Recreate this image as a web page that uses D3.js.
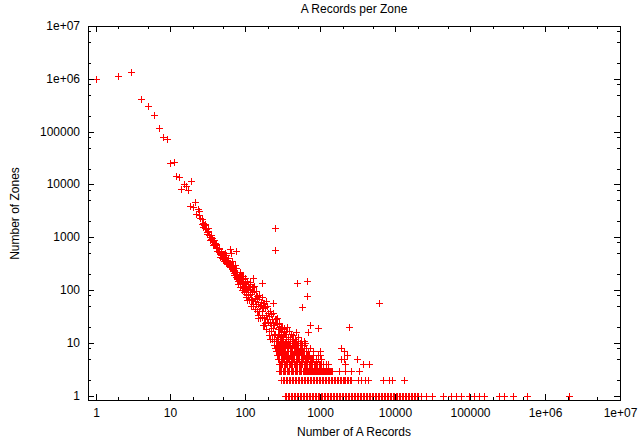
<!DOCTYPE html>
<html>
<head>
<meta charset="utf-8">
<script src="https://d3js.org/d3.v7.min.js"></script>
<style>
  body { margin: 0; background: #fff; }
  svg { display: block; font-family: "Liberation Sans", Arial, sans-serif; }
</style>
</head>
<body>
<div id="chart"></div>
<script>
// axis ticks
var xTickValues = [1, 10, 100, 1000, 10000, 100000, 1e6, 1e7];
var xTickLabels = ["1", "10", "100", "1000", "10000", "100000", "1e+06", "1e+07"];
var yTickValues = [1, 10, 100, 1000, 10000, 100000, 1e6, 1e7];
var yTickLabels = ["1", "10", "100", "1000", "10000", "100000", "1e+06", "1e+07"];
var xMinorTicks = [2, 5, 20, 50, 200, 500, 2000, 5000, 2e4, 5e4, 2e5, 5e5, 2e6, 5e6];
var yMinorTicks = [2, 5, 8, 20, 50, 80, 200, 500, 800, 2000, 5000, 8000, 2e4, 5e4, 8e4, 2e5, 5e5, 8e5, 2e6, 5e6, 8e6];

// [number of A records, number of zones]
var headPoints = [[1,1000000],[2,1150000],[3,1320000],[4,410000],[5,310000],[6,210000],[7,115000],
  [8,80000],[9,73000],[10,25600],[11,27000],[12,14500],[13,13600],[14,8100],[15,10100],[16,9200],
  [17,7700],[18,3900],[19,11700],[20,3800],[21,4600],[22,2800]];

var bandPoints = [[23,3500],[24,2600],[25,2360],[26,1800],[27,1900],[28,1680],[29,1500],[30,1420],
  [31,1250],[32,1330],[33,1100],[34,1020],[35,930],[36,980],[37,820],[38,730],[39,780],[40,660],
  [41,700],[42,620],[43,560],[44,520],[45,590],[46,480],[47,530],[48,470],[49,410],[50,470],
  [51,390],[52,430],[53,500],[54,360],[55,400],[56,330],[57,370],[58,310],[59,340],[60,290],
  [61,320],[62,590],[63,270],[64,300],[65,500],[66,250],[67,280],[68,230],[69,260],[70,210],
  [71,240],[72,300],[73,190],[74,220],[75,175],[76,545],[77,200],[78,165],[79,150],
  [80,132],[81,189],[82,177],[83,156],[84,218],[85,136],[86,112],[87,163],[88,187],[89,129],
  [90,184],[91,100],[92,111],[93,162],[94,188],[95,132],[96,92],[97,117],[98,170],[99,110],
  [100,143],[101,86],[102,128],[103,75],[104,106],[105,66],[106,148],[108,132],[109,82],[110,100],
  [112,66],[113,115],[114,104],[116,83],[117,140],[118,68],[120,51],[121,91],[122,113],[124,66],
  [125,112],[126,50],[128,55],[129,95],[131,118],[133,72],[134,44],[136,61],[138,98],[139,55],
  [141,78],[143,41],[144,69],[146,34],[148,54],[149,30],[151,82],[153,73],[154,40],[156,51],
  [159,30],[160,59],[162,52],[165,40],[166,75],[168,31],[171,22],[172,45],[174,58],[177,30],
  [178,58],[180,22],[183,24],[184,47],[187,62],[190,34],[191,18],[194,28],[197,50],[198,25],
  [201,37],[204,17],[205,32],[208,14],[211,24],[212,12],[215,40],[219,35],[220,17],[223,22],
  [227,12],[228,28],[231,24],[235,19],[236,37],[239,14],[243,11],[244,22],[248,28],[252,15],
  [253,28],[257,11],[261,13],[262,23],[266,29],[270,18],[271,11],[275,15],[280,24],[281,15],
  [285,20],[290,12],[291,18],[295,13],[300,15],[301,10],[306,20],[311,18],[312,12],[317,14],
  [322,11],[323,16],[328,15]];

// second zone counts read where the band is wide
var bandExtra = [[24,3100],[26,2200],[27,1550],[29,1750],[31,1150],[32,1500],[34,880],[35,1120],
  [37,700],[38,880],[40,760],[42,540],[44,640],[46,420],[48,560],[50,400],[52,350],[55,460],
  [57,320],[59,400],[61,280],[63,330],[66,350],[69,300],[71,190],[74,260],[77,170]];

var midPoints = [[286,12],[296,20],[306,13],[316,11],[325,19],[335,10],[340,15],[345,12],[352,17],
  [358,20],[366,10],[372,13],[383,17],[390,13],[397,11],[405,15],[418,12],[426,10],[432,14],
  [447,10],[462,12],[478,11],[500,10],[540,10],[560,11],[620,10]];

var outliers = [[128,170],[166,137],[232,57],[245,1500],[245,570],[490,137],[670,150],[670,76],
  [575,48],[475,16],[680,16],[505,13],[600,11],[735,22],[940,19],[2400,20],[6000,58]];

// zones with exactly n records: x values per row
var ones = [342,353,372,388,409,423,447,463,490,509,538,557,590,611,646,670,708,735,776,805,851,
  883,932,969,1024,1061,1120,1163,1230,1276,1350,1398,1479,1532,1620,1681,1775,1843,1947,2018,
  2134,2214,2340,2427,2565,2660,2812,2917,3083,3198,3379,3506,3705,3843,4061,4214,4452,4619,4880,
  5063,5350,5551,5865,6085,6430,6670,7048,7312,7726,8016,8469,8787,9284,9633,10177,10560,11156,
  11576,12229,12690,13406,13911,14696,15250,16110,16718,17660,18327,19360,20090,22100,26000,31200,
  43000,55500,64000,75500,97000,113000,132000,155000,245000,285000,372000,567000,2100000];
var twos = [302,318,331,349,363,382,398,419,436,459,478,503,524,551,574,604,629,662,689,725,755,
  794,827,870,906,953,993,1044,1088,1144,1192,1253,1306,1373,1431,1505,1568,1649,1718,1807,1882,
  1980,2062,2169,2259,2377,2475,2604,3200,3500,4000,4300,6800,8200,9000,13000];
var threes = [277,284,291,302,314,321,329,342,355,363,371,386,401,410,420,437,454,465,475,494,512,
  525,536,558,579,593,606,630,654,670,686,712,739,757,775,805,835,855,874,909,943,966,989,1027,
  1066,1091,1117,1160,1204,1233,1262,1310,1361,1392,1428,1790,2110,2580,3320];
var fours = [279,289,300,313,326,337,348,364,381,393,405,424,444,458,473,495,518,535,552,578,604,
  624,645,674,705,728,752,786,822,849,877,917,958,990,1031,1100,1180,1250,2160,3700,4500];
var fives = [272,284,296,307,318,331,345,358,372,387,402,418,436,452,469,488,508,527,548,570,594,
  616,640,665,693,718,747,776,808,872,941,1030,1900,2060,3050];
var sixes = [262,274,285,295,306,320,333,344,357,372,389,402,416,434,452,468,484,505,526,545,563,
  588,612,655,712,800,930,1000,2280];
var sevens = [257,269,281,292,303,316,331,343,357,373,391,405,421,440,460,477,496,518,542,562,584,
  610,638,680,790,990,2050];
var eights = [251,263,276,287,299,313,329,342,356,372,391,406,424,444,466,484,505,528,555,600,640,
  720,1870];
var nines = [243,255,267,278,290,304,319,331,346,363,381,396,413,432,454,472,493,510,530,565,600];

var width = 638, height = 440;

var svg = d3.select("#chart").append("svg")
  .attr("width", width)
  .attr("height", height);

var x = d3.scaleLog().domain([0.794, 1e7]).rangeRound([88, 620]);
var y = d3.scaleLog().domain([0.83, 1e7]).rangeRound([400, 26]);

// gather all points
var rows = [[1, ones], [2, twos], [3, threes], [4, fours], [5, fives], [6, sixes], [7, sevens], [8, eights], [9, nines]];
var data = [].concat(headPoints, bandPoints, bandExtra, midPoints, outliers);
rows.forEach(function(r) {
  r[1].forEach(function(v) { data.push([v, r[0]]); });
});

// markers
svg.append("g")
  .selectAll("path")
  .data(data)
  .enter()
  .append("path")
    .attr("transform", function(d) { return "translate(" + (x(d[0]) + 0.5) + "," + (y(d[1]) + 0.5) + ")"; })
    .attr("d", "M-3.5,0H3.5M0,-3.5V3.5")
    .attr("fill", "none")
    .attr("stroke", "#ff0000")
    .attr("stroke-width", 1);

// axes, gnuplot style: ticks inside on all four sides
function styleAxis(g) {
  g.select(".domain").remove();
  g.selectAll(".tick line").attr("stroke", "#000");
  g.selectAll(".tick text").attr("fill", "#000").style("font-size", "12px").style("font-family", "Liberation Sans, Arial, sans-serif");
}

svg.append("g")
  .attr("transform", "translate(0," + y.range()[0] + ")")
  .call(d3.axisBottom(x).tickValues(xTickValues).tickSize(-6).tickPadding(8)
    .tickFormat(function(d, i) { return xTickLabels[i]; }))
  .call(styleAxis);
svg.append("g")
  .attr("transform", "translate(0," + y.range()[0] + ")")
  .call(d3.axisBottom(x).tickValues(xMinorTicks).tickSize(-3).tickFormat(""))
  .call(styleAxis);
svg.append("g")
  .attr("transform", "translate(0," + y.range()[1] + ")")
  .call(d3.axisTop(x).tickValues(xTickValues).tickSize(-6).tickFormat(""))
  .call(styleAxis);
svg.append("g")
  .attr("transform", "translate(0," + y.range()[1] + ")")
  .call(d3.axisTop(x).tickValues(xMinorTicks).tickSize(-3).tickFormat(""))
  .call(styleAxis);

svg.append("g")
  .attr("transform", "translate(" + x.range()[0] + ",0)")
  .call(d3.axisLeft(y).tickValues(yTickValues).tickSize(-6).tickPadding(8)
    .tickFormat(function(d, i) { return yTickLabels[i]; }))
  .call(styleAxis);
svg.append("g")
  .attr("transform", "translate(" + x.range()[0] + ",0)")
  .call(d3.axisLeft(y).tickValues(yMinorTicks).tickSize(-3).tickFormat(""))
  .call(styleAxis);
svg.append("g")
  .attr("transform", "translate(" + x.range()[1] + ",0)")
  .call(d3.axisRight(y).tickValues(yTickValues).tickSize(-6).tickFormat(""))
  .call(styleAxis);
svg.append("g")
  .attr("transform", "translate(" + x.range()[1] + ",0)")
  .call(d3.axisRight(y).tickValues(yMinorTicks).tickSize(-3).tickFormat(""))
  .call(styleAxis);

// frame
svg.append("rect")
  .attr("x", x.range()[0] + 0.5)
  .attr("y", y.range()[1] + 0.5)
  .attr("width", x.range()[1] - x.range()[0])
  .attr("height", y.range()[0] - y.range()[1])
  .attr("fill", "none")
  .attr("stroke", "#000")
  .attr("stroke-width", 1);

// titles
svg.append("text")
  .attr("x", 354)
  .attr("y", 13)
  .attr("text-anchor", "middle")
  .style("font-size", "12px")
  .text("A Records per Zone");

svg.append("text")
  .attr("x", 354)
  .attr("y", 436)
  .attr("text-anchor", "middle")
  .style("font-size", "12px")
  .text("Number of A Records");

svg.append("text")
  .attr("transform", "translate(18.5,213.5) rotate(-90)")
  .attr("text-anchor", "middle")
  .style("font-size", "12px")
  .text("Number of Zones");
</script>
</body>
</html>
